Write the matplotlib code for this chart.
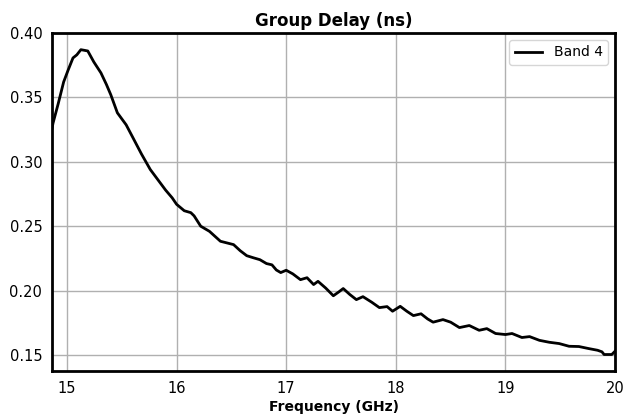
import matplotlib
matplotlib.use("Agg")
import matplotlib.pyplot as plt

# Group delay readings for Band 4 (frequency in GHz, delay in ns)
freq_ghz = [14.864, 14.873, 14.92, 14.97, 15.01, 15.055, 15.09, 15.127, 15.16, 15.19,
            15.245, 15.31, 15.36, 15.4, 15.46, 15.54, 15.6, 15.68, 15.76, 15.83,
            15.9, 15.96, 16.0, 16.07, 16.13, 16.16, 16.22, 16.3, 16.4, 16.46,
            16.52, 16.58, 16.64, 16.7, 16.76, 16.82, 16.87, 16.91, 16.95, 17.0,
            17.06, 17.13, 17.19, 17.25, 17.29, 17.36, 17.43, 17.48, 17.52, 17.58,
            17.64, 17.7, 17.78, 17.85, 17.92, 17.97, 18.04, 18.1, 18.16, 18.23,
            18.29, 18.34, 18.43, 18.5, 18.58, 18.67, 18.76, 18.83, 18.91, 19.0,
            19.06, 19.15, 19.22, 19.31, 19.4, 19.49, 19.58, 19.67, 19.76, 19.84,
            19.88, 19.9, 19.97, 20.0]
delay_ns = [0.326, 0.33, 0.345, 0.362, 0.371, 0.3806, 0.383, 0.387, 0.3865, 0.386,
            0.3775, 0.369, 0.36, 0.352, 0.338, 0.3287, 0.319, 0.306, 0.294, 0.286,
            0.278, 0.272, 0.267, 0.262, 0.2605, 0.258, 0.25, 0.246, 0.2383, 0.237,
            0.2357, 0.231, 0.2271, 0.2255, 0.224, 0.221, 0.220, 0.216, 0.214, 0.2158,
            0.213, 0.2085, 0.210, 0.2047, 0.2072, 0.202, 0.196, 0.199, 0.2016, 0.197,
            0.193, 0.1953, 0.191, 0.1868, 0.1876, 0.184, 0.1878, 0.184, 0.1806, 0.182,
            0.178, 0.1755, 0.1775, 0.1755, 0.1713, 0.1729, 0.1692, 0.1705, 0.1667, 0.1659,
            0.1667, 0.1636, 0.1643, 0.1614, 0.1599, 0.1589, 0.1568, 0.1566, 0.1550, 0.1537,
            0.1525, 0.1504, 0.1504, 0.153]

fig = plt.figure(figsize=(6.27, 4.17), dpi=100)
ax = fig.add_axes([0.083, 0.110, 0.898, 0.811])

ax.plot(freq_ghz, delay_ns, color="black", linewidth=2, label="Band 4")

ax.set_xlim(14.864, 20.0)
ax.set_ylim(0.1375, 0.40)
ax.set_xticks([15, 16, 17, 18, 19, 20])
ax.set_yticks([0.15, 0.20, 0.25, 0.30, 0.35, 0.40])
ax.grid(True, color="#b0b0b0", linewidth=1)
ax.tick_params(length=0, pad=7, labelsize=10.5)

for s in ax.spines.values():
    s.set_linewidth(2)

ax.set_title("Group Delay (ns)", fontweight="bold", fontsize=12, pad=5)
ax.set_xlabel("Frequency (GHz)", fontweight="bold", fontsize=10, labelpad=3)
ax.legend(loc="upper right", fontsize=10)

fig.savefig("out.png", dpi=100)
